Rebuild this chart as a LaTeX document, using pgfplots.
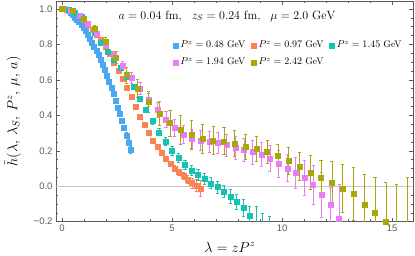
\documentclass[border=0pt]{standalone}
\usepackage{fontspec}
\usepackage{pgfplots}
\usepackage{pgfplotstable}
\pgfplotsset{compat=1.18}
\newfontfamily\tickfont{Liberation Sans}
\definecolor{cB}{RGB}{74,168,240}
\definecolor{cO}{RGB}{250,130,84}
\definecolor{cT}{RGB}{20,196,176}
\definecolor{cP}{RGB}{234,124,244}
\definecolor{cY}{RGB}{168,168,10}
\definecolor{frame}{RGB}{90,90,90}

\pgfplotstableread{
x y e
0.000 1.000 0.001
0.097 0.999 0.001
0.195 0.995 0.002
0.292 0.990 0.002
0.389 0.980 0.002
0.487 0.966 0.003
0.584 0.953 0.003
0.681 0.940 0.003
0.778 0.926 0.003
0.876 0.911 0.003
0.973 0.895 0.003
1.070 0.876 0.004
1.168 0.856 0.004
1.265 0.835 0.004
1.362 0.812 0.004
1.460 0.789 0.004
1.557 0.764 0.005
1.654 0.740 0.005
1.751 0.713 0.005
1.849 0.684 0.005
1.946 0.655 0.006
2.043 0.624 0.006
2.141 0.591 0.006
2.238 0.557 0.007
2.335 0.520 0.007
2.433 0.484 0.008
2.530 0.446 0.009
2.627 0.408 0.010
2.724 0.369 0.011
2.822 0.329 0.012
2.919 0.288 0.014
3.016 0.247 0.016
3.114 0.205 0.020
}\tblue

\pgfplotstableread{
x y e
0.000 1.000 0.001
0.197 0.997 0.002
0.394 0.990 0.002
0.590 0.978 0.002
0.787 0.962 0.003
0.984 0.940 0.003
1.181 0.914 0.004
1.378 0.885 0.004
1.574 0.855 0.004
1.771 0.826 0.004
1.968 0.790 0.005
2.165 0.746 0.006
2.362 0.700 0.006
2.558 0.652 0.006
2.755 0.605 0.006
2.952 0.558 0.007
3.149 0.505 0.008
3.346 0.449 0.009
3.542 0.395 0.009
3.739 0.346 0.010
3.936 0.300 0.010
4.133 0.257 0.012
4.330 0.221 0.012
4.526 0.187 0.013
4.723 0.155 0.014
4.920 0.127 0.016
5.117 0.101 0.017
5.314 0.080 0.018
5.510 0.059 0.020
5.707 0.038 0.024
5.904 0.019 0.028
6.101 0.004 0.034
6.298 -0.013 0.045
}\torange

\pgfplotstableread{
x y e
0.000 1.000 0.001
0.294 0.995 0.002
0.588 0.980 0.003
0.882 0.955 0.004
1.176 0.915 0.005
1.471 0.865 0.006
1.765 0.810 0.007
2.059 0.762 0.008
2.353 0.715 0.009
2.647 0.667 0.010
2.941 0.617 0.011
3.235 0.562 0.012
3.529 0.495 0.013
3.823 0.432 0.015
4.117 0.368 0.018
4.412 0.305 0.020
4.706 0.252 0.022
5.000 0.200 0.024
5.294 0.160 0.026
5.588 0.122 0.027
5.882 0.090 0.028
6.176 0.064 0.029
6.470 0.041 0.030
6.764 0.017 0.031
7.058 -0.004 0.033
7.353 -0.029 0.035
7.647 -0.056 0.038
7.941 -0.087 0.042
8.235 -0.123 0.048
8.529 -0.168 0.055
8.823 -0.215 0.100
9.117 -0.260 0.110
9.411 -0.300 0.130
}\tteal

\pgfplotstableread{
x y e
0.000 1.000 0.001
0.393 0.993 0.003
0.787 0.962 0.006
1.180 0.915 0.008
1.574 0.863 0.012
1.967 0.800 0.016
2.361 0.740 0.020
2.754 0.678 0.025
3.148 0.612 0.030
3.541 0.553 0.034
3.935 0.488 0.038
4.328 0.432 0.042
4.722 0.376 0.045
5.115 0.328 0.048
5.509 0.292 0.050
5.902 0.268 0.053
6.296 0.258 0.055
6.689 0.252 0.058
7.083 0.245 0.060
7.476 0.232 0.062
7.870 0.215 0.064
8.263 0.205 0.066
8.657 0.193 0.068
9.050 0.180 0.070
9.444 0.157 0.072
9.837 0.126 0.074
10.231 0.102 0.076
10.624 0.078 0.088
11.018 0.046 0.098
11.411 0.008 0.108
11.805 -0.048 0.125
12.198 -0.104 0.100
12.592 -0.182 0.195
}\tpink

\pgfplotstableread{
x y e
0.000 1.000 0.001
0.491 0.990 0.005
0.981 0.947 0.010
1.472 0.891 0.016
1.962 0.816 0.025
2.453 0.728 0.035
2.943 0.628 0.045
3.434 0.552 0.052
3.924 0.478 0.060
4.415 0.412 0.068
4.905 0.356 0.075
5.396 0.318 0.080
5.886 0.290 0.082
6.377 0.268 0.080
6.867 0.260 0.078
7.358 0.254 0.076
7.848 0.242 0.074
8.339 0.222 0.072
8.829 0.210 0.070
9.320 0.195 0.066
9.810 0.172 0.062
10.301 0.145 0.075
10.791 0.113 0.078
11.282 0.078 0.094
11.772 0.047 0.100
12.263 0.018 0.120
12.753 -0.011 0.135
13.244 -0.042 0.150
13.734 -0.104 0.170
14.225 -0.148 0.200
14.715 -0.197 0.220
15.206 -0.260 0.270
15.696 -0.240 0.290
}\tolive

\pgfplotsset{
  myser/.style={only marks, mark=square*, mark size=2.5pt, color=#1,
    mark options={draw=#1, fill=#1, line width=0.3pt},
    error bars/.cd, y dir=both, y explicit,
    error bar style={line width=0.6pt, #1},
    error mark options={rotate=90, mark size=1.6pt, line width=0.6pt, #1}}
}

\begin{document}
\begin{tikzpicture}
\path[use as bounding box] (-56pt,-34.3pt) rectangle (359pt,221.7pt);
\begin{axis}[
  at={(0pt,0pt)}, anchor=south west,
  scale only axis, width=357pt, height=220.7pt,
  xmin=-0.273, xmax=15.95, ymin=-0.2, ymax=1.045,
  xtick={0,5,10,15}, xticklabels={0,5,10,15},
  minor x tick num=4,
  ytick={-0.2,0,0.2,0.4,0.6,0.8,1},
  yticklabels={−0.2,0.0,0.2,0.4,0.6,0.8,1.0},
  minor y tick num=3,
  tick align=inside, major tick length=4pt, minor tick length=2.3pt,
  tick style={frame, line width=0.5pt},
  axis line style={frame, line width=0.7pt},
  tick label style={font=\fontsize{9.5}{10}\tickfont, text=frame},
  xlabel={$\lambda = zP^z$},
  xlabel style={at={(axis description cs:0.487,-0.115)}, anchor=center, font=\fontsize{14.4}{16}\selectfont},
  ylabel={$\tilde{h}(\lambda,\, \lambda_S,\, P^z,\, \mu,\, a)$},
  ylabel style={at={(axis description cs:-0.122,0.5)}, anchor=center, font=\fontsize{14.4}{16}\selectfont},
  legend columns=3, legend cell align=left,
  legend style={at={(axis description cs:0.316,0.828)}, anchor=north west, draw=none, fill=none,
    font=\fontsize{9.6}{11}\selectfont, inner sep=0pt, row sep=4.5pt, column sep=0pt,
    /tikz/every even column/.append style={column sep=0pt},
    /tikz/every odd column/.append style={column sep=0pt}},
  legend image code/.code={\path[draw=none, fill=none] (0pt,-0.1pt) rectangle (9.3pt,0.1pt); \draw[mark size=2.5pt] plot coordinates {(6.3pt,0pt)};},
]
\addplot[forget plot, black!22, line width=0.5pt] coordinates {(-1,0) (17,0)};
\addplot[myser=cB] table[x=x, y=y, y error=e] {\tblue};
\addlegendentry{$P^z = 0.48$ GeV}
\addplot[myser=cO] table[x=x, y=y, y error=e] {\torange};
\addlegendentry{$P^z = 0.97$ GeV}
\addplot[myser=cT] table[x=x, y=y, y error=e] {\tteal};
\addlegendentry{$P^z = 1.45$ GeV}
\addplot[myser=cP] table[x=x, y=y, y error=e] {\tpink};
\addlegendentry{$P^z = 1.94$ GeV}
\addplot[myser=cY] table[x=x, y=y, y error=e] {\tolive};
\addlegendentry{$P^z = 2.42$ GeV}
\node[font=\fontsize{12}{14}\selectfont] at (axis description cs:0.479,0.932)
  {$a = 0.04\ \mathrm{fm},\ \ z_S = 0.24\ \mathrm{fm},\ \ \mu = 2.0\ \mathrm{GeV}$};
\end{axis}
\end{tikzpicture}
\end{document}
